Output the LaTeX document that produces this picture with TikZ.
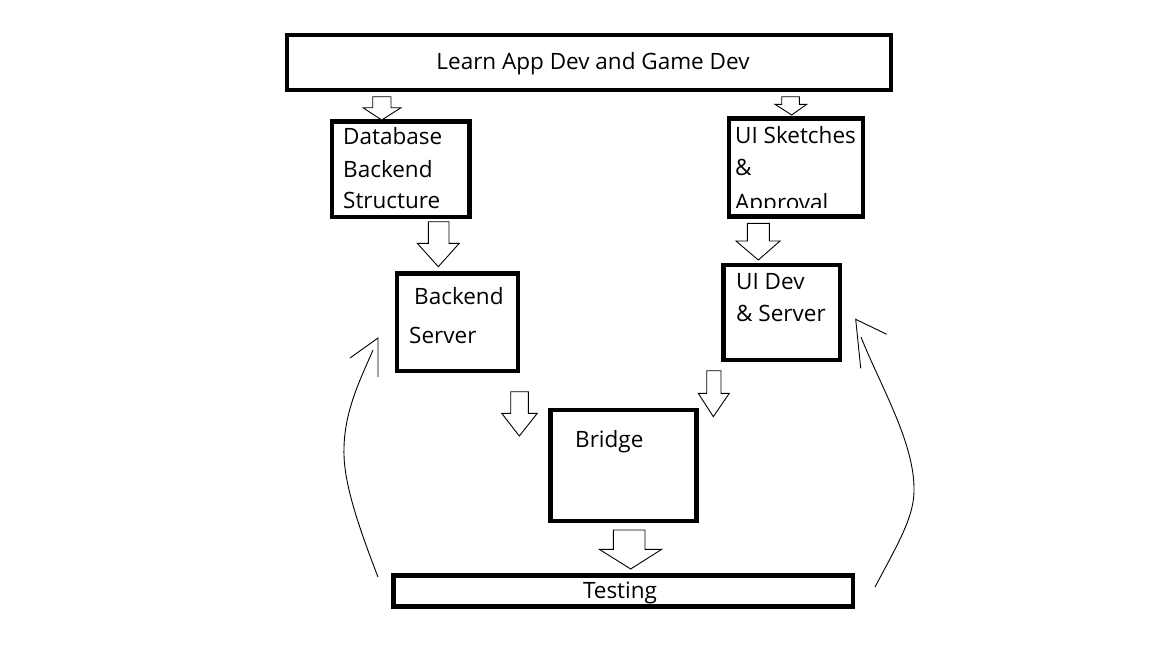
\documentclass[tikz,border=0pt]{standalone}
\usepackage{fontspec}
\setmainfont{Open Sans}
\tikzset{
  box/.style={draw=black, line width=4.5pt, inner sep=0pt, fill=none},
  lbl/.style={inner sep=0pt, font=\fontsize{22.5}{27}\selectfont},
  barr/.style={draw=black, fill=white, line width=0.9pt, line join=miter},
  thinline/.style={draw=black, line width=0.9pt},
}
\newcommand{\blockarr}[8]{%
  \draw[barr] (#1,#3) -- (#2,#3) -- (#2,#4) -- (#6,#4) -- (#7,#8) -- (#5,#4) -- (#1,#4) -- cycle;}
\begin{document}
\begin{tikzpicture}[x=1pt,y=-1pt]
\useasboundingbox[fill=white] (0,0) rectangle (1152,648);
% boxes
\node[box, minimum width=604pt, minimum height=55pt] (top) at (589,62.5) {};
\node[box, minimum width=137.5pt, minimum height=95.5pt] (db) at (400.75,169.25) {};
\node[box, minimum width=134pt, minimum height=97.8pt] (uisk) at (796,167.4) {};
\node[box, minimum width=121pt, minimum height=97.5pt] (be) at (457.5,322.25) {};
\node[box, minimum width=116.5pt, minimum height=95.2pt] (uidev) at (781.75,312.4) {};
\node[box, minimum width=146pt, minimum height=110.8pt] (bridge) at (623.7,465.6) {};
\node[box, minimum width=459.5pt, minimum height=31pt] (test) at (623.25,591) {};
% texts
\node[lbl, anchor=base] (ttop) at (593,69) {Learn App Dev and Game Dev};
\node[lbl, anchor=base west] (tdb1) at (343,144) {Database};
\node[lbl, anchor=base west] (tdb2) at (343,177) {Backend};
\node[lbl, anchor=base west] (tdb3) at (343,208) {Structure};
\node[lbl, anchor=base west] (tuis1) at (735,143) {UI Sketches};
\node[lbl, anchor=base west] (tuis2) at (735,175) {\&};
\begin{scope}
  \clip (731,120) rectangle (861,207);
  \node[lbl, anchor=base west] (tuis3) at (735,210) {Approval};
\end{scope}
\node[lbl, anchor=base west] (tbe1) at (414,304) {Backend};
\node[lbl, anchor=base west] (tbe2) at (409,343) {Server};
\node[lbl, anchor=base west] (tuid1) at (736,289) {UI Dev};
\node[lbl, anchor=base west] (tuid2) at (736,321) {\& Server};
\node[lbl, anchor=base west] (tbr) at (575,447) {Bridge};
\node[lbl, anchor=base] (ttest) at (620,598) {Testing};
% block arrows
\blockarr{372.7}{391}{96.7}{107.7}{363}{401}{381.7}{120}
\blockarr{781.7}{799.3}{96.7}{104.3}{775}{806.7}{791.7}{115}
\blockarr{428.3}{449}{221.7}{243.3}{417.3}{459.3}{438.3}{266.7}
\blockarr{747.3}{769.3}{223.3}{241}{736}{780}{758.3}{260}
\blockarr{510.7}{528.3}{391.7}{413.3}{501.7}{537.3}{519.3}{436}
\blockarr{706.7}{721}{370.7}{393.3}{698.3}{729.3}{713.3}{416.7}
\blockarr{613.3}{645}{530}{549.3}{599.3}{661.7}{630.7}{569}
% feedback curves
\coordinate (lc0) at (378,577);
\coordinate (lc1) at (344,447);
\coordinate (lc2) at (373,350);
\draw[thinline] (lc0) .. controls (352,510) and (343,475) .. (lc1) .. controls (345,410) and (360,380) .. (lc2);
\coordinate (la) at (378,338);
\draw[thinline] (350,358) -- (la) -- (378,377);
\coordinate (rc0) at (875,587);
\coordinate (rc1) at (914,487);
\coordinate (rc2) at (861,337);
\draw[thinline] (rc0) .. controls (900,540) and (915,515) .. (rc1) .. controls (913,440) and (880,385) .. (rc2);
\coordinate (ra) at (855.7,319.3);
\draw[thinline] (886.7,334.3) -- (ra) -- (860.7,368.3);
\end{tikzpicture}
\end{document}
